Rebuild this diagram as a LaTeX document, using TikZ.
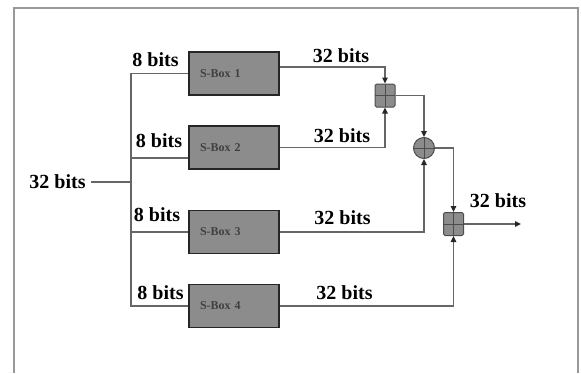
\documentclass[tikz,border=0pt]{standalone}
\usepackage{fontspec}
\setmainfont{Liberation Serif}
\usetikzlibrary{arrows.meta, positioning}

\begin{document}
\begin{tikzpicture}[x=1pt, y=-1pt, line width=1.3pt, >={Triangle[length=6pt,width=5.5pt,color=black!85]},
    wire/.style={draw=black!60},
    sbox/.style={draw=black!85, line width=1.7pt, fill=black!45, minimum width=90pt, minimum height=43pt,
        text width=68pt, inner xsep=11pt, align=left, font=\fontsize{12}{13}\selectfont\bfseries, text=black!75},
    lbl/.style={font=\fontsize{20}{22}\selectfont\bfseries, inner sep=1pt},
    adder/.style={draw=black!70, line width=1pt, fill=black!45, rounded corners=1.5pt, minimum width=20pt, minimum height=23pt, inner sep=0pt,
        path picture={\draw[black!70, line width=0.8pt] (path picture bounding box.north) -- (path picture bounding box.south)
            (path picture bounding box.west) -- (path picture bounding box.east);}},
    xorc/.style={circle, draw=black!70, line width=1pt, fill=black!45, minimum size=21pt, inner sep=0pt,
        path picture={\draw[black!70, line width=0.8pt] (path picture bounding box.north) -- (path picture bounding box.south)
            (path picture bounding box.west) -- (path picture bounding box.east);}}]
    \useasboundingbox (0,0) rectangle (581,373);
    \draw[black!40, line width=1.2pt] (14,373) |- (578,8) -- (578,373);

    \node [sbox] (s1) at (234,73.5) {S-Box 1};
    \node [sbox] (s2) at (234,147.5) {S-Box 2};
    \node [sbox] (s3) at (234,232) {S-Box 3};
    \node [sbox] (s4) at (234,306) {S-Box 4};
    \node [adder] (add1) at (385,95.5) {};
    \node [xorc] (xor) at (424,148) {};
    \node [adder] (add2) at (453.5,224) {};

    \node [lbl, inner xsep=5pt] (in) at (57.5,182) {32 bits};
    \coordinate (bus) at (131,182);
    \coordinate (out) at (521,224);

    \node [lbl] (b1) at (155.5,60) {8 bits};
    \node [lbl] (b2) at (159,141) {8 bits};
    \node [lbl] (b3) at (157,215) {8 bits};
    \node [lbl] (b4) at (160.5,293) {8 bits};
    \node [lbl] (w1) at (341,56) {32 bits};
    \node [lbl] (w2) at (342,136) {32 bits};
    \node [lbl] (w3) at (342.5,218) {32 bits};
    \node [lbl] (w4) at (344.5,293) {32 bits};
    \node [lbl] (wout) at (498,201) {32 bits};

    \draw [wire] (in) -- (bus);
    \draw [wire] (bus) |- (s1.west);
    \draw [wire] (bus) |- ([yshift=-10.5pt]s2.west);
    \draw [wire] (bus) |- (s3.west);
    \draw [wire] (bus) |- (s4.west);

    \draw [wire, ->] ([yshift=6.5pt]s1.east) -| (add1.north);
    \draw [wire, ->] (s2.east) -| (add1.south);
    \draw [wire, ->] (add1.east) -| (xor.north);
    \draw [wire, ->] (s3.east) -| (xor.south);
    \draw [wire, ->] (xor.east) -| (add2.north);
    \draw [wire, ->] (s4.east) -| (add2.south);
    \draw [wire, ->] (add2.east) -- (out);
\end{tikzpicture}
\end{document}
